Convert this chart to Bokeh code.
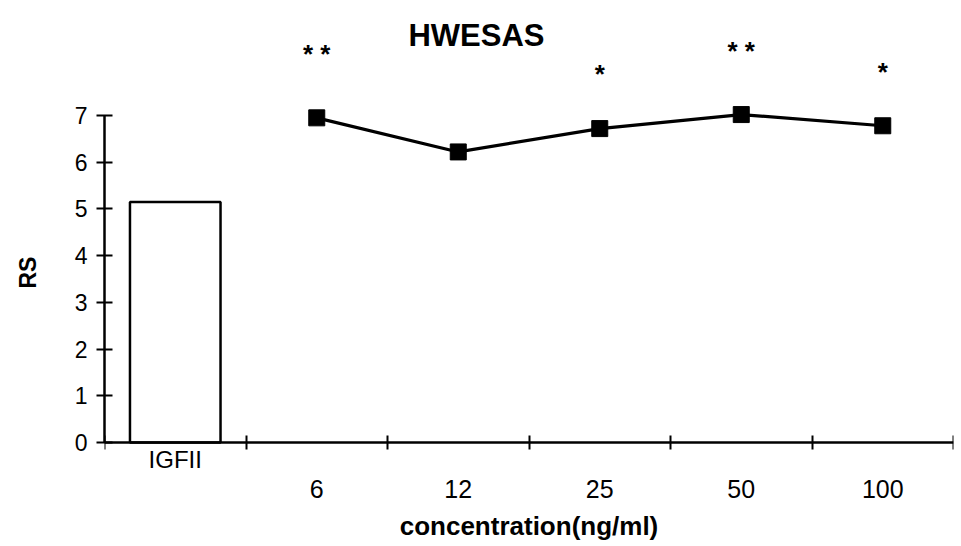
from bokeh.plotting import figure
from bokeh.models import Range1d, LinearAxis, FixedTicker, ColumnDataSource, LabelSet, Label
from bokeh.core.properties import value
from bokeh.embed import file_html
from bokeh.resources import INLINE

# ---- data ----
title_text = "HWESAS"
control_label = "IGFII"
control_value = 5.15
conc_labels = ["6", "12", "25", "50", "100"]
rs_values = [6.95, 6.22, 6.72, 7.02, 6.78]
significance = ["* *", "", "*", "* *", "*"]
y_ticks = [0, 1, 2, 3, 4, 5, 6, 7]
x_title = "concentration(ng/ml)"
y_title = "RS"

FONT = "Liberation Sans"
n_cat = 1 + len(conc_labels)
centers = [i + 0.5 for i in range(n_cat)]

# ---- layout (pixels) ----
W, H = 958, 544
LEFT, RIGHT = 104, 5
ZERO_PX = 442          # pixel row of y = 0
PX_PER_UNIT = 327 / 7  # vertical scale
y_max = ZERO_PX / PX_PER_UNIT
y_min = -(H - ZERO_PX) / PX_PER_UNIT
px_per_cat = (W - LEFT - RIGHT) / n_cat
TITLE_CX, TITLE_BASE = 476, 35

p = figure(width=W, height=H, title=None,
           x_range=Range1d(0, n_cat), y_range=Range1d(y_min, y_max),
           x_axis_type=None, y_axis_type=None,
           output_backend="svg", toolbar_location=None,
           min_border_left=LEFT, min_border_right=RIGHT,
           min_border_top=0, min_border_bottom=0)
p.background_fill_color = "white"
p.border_fill_color = "white"
p.outline_line_color = None
p.xgrid.visible = False
p.ygrid.visible = False

p.add_layout(Label(x=(TITLE_CX - LEFT) / px_per_cat,
                   y=(ZERO_PX - TITLE_BASE) / PX_PER_UNIT,
                   text=title_text, text_align="center", text_baseline="alphabetic",
                   text_font=FONT, text_font_size="31px", text_font_style="bold",
                   text_color="black"))

# y axis
yax = LinearAxis(ticker=FixedTicker(ticks=y_ticks), bounds=(0, max(y_ticks)))
yax.axis_line_width = 2.5
yax.major_tick_line_width = 2
yax.major_tick_in = 8
yax.major_tick_out = 8
yax.minor_tick_line_color = None
yax.major_label_text_font = FONT
yax.major_label_text_font_size = "23px"
yax.major_label_text_color = "black"
yax.major_label_standoff = 9
yax.axis_label = y_title
yax.axis_label_text_font = FONT
yax.axis_label_text_font_size = "23px"
yax.axis_label_text_font_style = "bold"
yax.axis_label_text_color = "black"
yax.axis_label_standoff = 31
p.add_layout(yax, "left")

# x axis 1 : boundary ticks + control label
xax1 = LinearAxis(ticker=FixedTicker(ticks=[centers[0]],
                                     minor_ticks=list(range(n_cat + 1))),
                  fixed_location=0)
xax1.major_label_overrides = {centers[0]: control_label}
xax1.axis_line_width = 2.5
xax1.major_tick_line_color = None
xax1.major_tick_in = 0
xax1.major_tick_out = 7
xax1.minor_tick_line_width = 2
xax1.minor_tick_in = 7
xax1.minor_tick_out = 7
xax1.major_label_text_font = FONT
xax1.major_label_text_font_size = "24px"
xax1.major_label_text_color = "black"
xax1.major_label_standoff = -4
p.add_layout(xax1, "below")

# x axis 2 : concentration labels + title
xax2 = LinearAxis(ticker=FixedTicker(ticks=centers[1:], minor_ticks=[]),
                  fixed_location=0)
xax2.major_label_overrides = {c: l for c, l in zip(centers[1:], conc_labels)}
xax2.axis_line_color = None
xax2.major_tick_line_color = None
xax2.major_tick_in = 0
xax2.major_tick_out = 0
xax2.minor_tick_line_color = None
xax2.major_label_text_font = FONT
xax2.major_label_text_font_size = "25px"
xax2.major_label_text_color = "black"
xax2.major_label_standoff = 37
xax2.axis_label = x_title
xax2.axis_label_text_font = FONT
xax2.axis_label_text_font_size = "26px"
xax2.axis_label_text_font_style = "bold"
xax2.axis_label_text_color = "black"
xax2.axis_label_standoff = 10
p.add_layout(xax2, "below")

# control bar
p.vbar(x=[centers[0]], top=[control_value], width=0.64, bottom=0,
       fill_color="white", line_color="black", line_width=2.5)

# concentration series
src = ColumnDataSource(dict(
    x=centers[1:], y=rs_values, sig=significance,
    sy=[v + (1.37 if len(s) > 1 else 1.16) for v, s in zip(rs_values, significance)]))
p.line("x", "y", source=src, line_color="black", line_width=3.2)
p.scatter("x", "y", source=src, marker="square", size=16,
          fill_color="black", line_color="black")
p.add_layout(LabelSet(x="x", y="sy", text="sig", source=src,
                      text_font=value(FONT), text_font_size=value("26px"),
                      text_font_style=value("bold"),
                      text_align="center", text_baseline="middle",
                      text_color="black"))

open("out.html", "w").write(file_html(p, INLINE))
